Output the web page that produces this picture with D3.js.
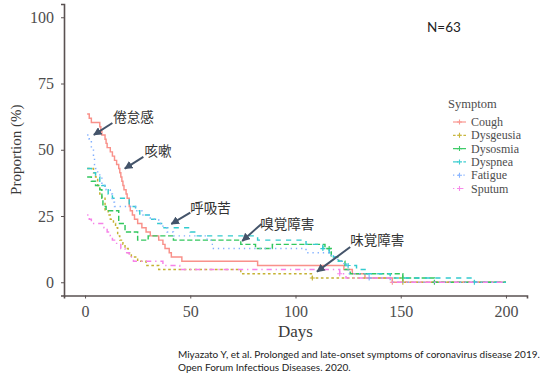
<!DOCTYPE html>
<html>
<head>
<meta charset="utf-8">
<script src="https://cdn.jsdelivr.net/npm/d3@7"></script>
<style>
  body { margin: 0; background: #fff; }
</style>
</head>
<body>
<div id="chart"></div>
<script>
// symptom names, in legend order
var symptoms = ['Cough', 'Dysgeusia', 'Dysosmia', 'Dyspnea', 'Fatigue', 'Sputum'];

// [day, proportion %] step points (N=63)
var cough = [[1, 63.5], [2, 61.9], [3, 60.3], [7, 58.7], [7.5, 57.1], [8, 55.6], [9.5, 54.0], [10, 52.4],
    [10.5, 50.8], [12, 49.2], [13, 47.6], [14, 46.0], [15, 44.4], [16, 42.9], [16.5, 41.3], [17, 39.7],
    [17.5, 38.1], [18, 36.5], [18.5, 34.9], [19.5, 33.3], [20, 31.7], [21, 28.6], [21.5, 27.0], [22.5, 25.4],
    [23.5, 23.8], [25, 22.2], [27, 20.6], [29, 19.0], [31, 17.5], [35, 15.9], [37, 14.3], [38, 12.7],
    [40, 11.1], [41, 9.5], [46, 7.9], [82, 6.3], [123, 4.8], [127, 3.2], [133, 1.6], [146, 0], [200, 0]];
var dysgeusia = [[1, 42.9], [4, 41.3], [5, 39.7], [6, 36.5], [7, 33.3], [8, 31.7], [9.5, 27.0], [11, 25.4],
    [12, 23.8], [13.5, 22.2], [14.5, 20.6], [15.5, 17.5], [16.5, 15.9], [18, 14.3], [19, 12.7], [20.5, 11.1],
    [22, 9.5], [25, 7.9], [29, 6.3], [35, 4.8], [74, 3.2], [108, 1.6], [151, 0], [200, 0]];
var dysosmia = [[1, 39.7], [3, 38.1], [5, 36.5], [7, 34.9], [8, 31.7], [8.5, 28.6], [10, 27.0], [16, 22.2],
    [19, 19.0], [25, 15.9], [30, 17.5], [42, 15.9], [74, 14.3], [81, 12.7], [89, 14.3], [114, 12.7],
    [117, 9.5], [120.5, 7.9], [123.5, 4.8], [126, 3.2], [151, 1.6], [166, 0], [200, 0]];
var dyspnea = [[1, 42.9], [3, 41.3], [5, 39.7], [7, 38.1], [8, 36.5], [9.5, 34.9], [11, 33.3], [13, 31.7],
    [21, 28.6], [24, 27.0], [26, 25.4], [31, 23.8], [34, 22.2], [37, 20.6], [50, 19.0], [53, 17.5],
    [82, 15.9], [105, 14.3], [113, 12.7], [116, 11.1], [118, 9.5], [120, 7.9], [124, 6.3], [129, 4.8],
    [134, 3.2], [145, 1.6], [185, 0], [200, 0]];
var fatigue = [[1, 55.6], [2, 54.0], [3, 50.8], [4, 47.6], [4.5, 44.4], [5, 42.9], [6, 41.3], [7, 39.7],
    [8, 36.5], [10, 34.9], [12, 33.3], [13, 30.2], [14, 28.6], [24, 27.0], [27, 25.4], [31, 23.8],
    [35, 22.2], [37, 20.6], [39, 19.0], [42, 17.5], [58, 15.9], [60, 14.3], [61, 12.7], [105, 11.1],
    [117, 9.5], [120, 7.9], [123, 6.3], [125, 3.2], [135, 1.6], [145, 0], [200, 0]];
var sputum = [[1, 25.4], [2, 23.8], [3, 22.2], [9, 20.6], [10.5, 19.0], [12, 17.5], [13, 15.9], [15, 14.3],
    [17, 12.7], [19, 11.1], [21, 9.5], [23, 7.9], [37, 6.3], [45, 4.8], [121, 3.2], [124, 1.6],
    [146, 0], [200, 0]];

// censoring days (+ marks)
var censorDays = [[146], [108, 151], [116, 151, 166], [113, 125, 185], [135], [121]];

var xTicks = [0, 50, 100, 150, 200];
var yTicks = [0, 25, 50, 75, 100];

var noteLabels = ['倦怠感', '咳嗽', '呼吸苦', '嗅覚障害', '味覚障害'];

var series = [cough, dysgeusia, dysosmia, dyspnea, fatigue, sputum];
var colors = ['#F8766D', '#B79F00', '#00BA38', '#00BFC4', '#619CFF', '#F564E3'];
var dashes = [null, '2.6,2.6', '5.2,2.6', '5.2,5.2', '1.3,3.9', '1.3,3.9,5.2,3.9'];

var width = 544, height = 378;
var svg = d3.select('#chart').append('svg')
    .attr('width', width)
    .attr('height', height);

var x = d3.scaleLinear().domain([-10, 210]).range([64, 527]);
var y = d3.scaleLinear().domain([-5, 105]).range([295.5, 4]);

var axisColor = '#5a5252',
    serif = '"Liberation Serif", "Times New Roman", serif',
    textGrey = '#4d4d4d';

// axes
var xAxis = svg.append('g')
    .attr('transform', 'translate(0,' + y(-5) + ')')
    .call(d3.axisBottom(x).tickValues(xTicks).tickSize(3).tickPadding(7));
var yAxis = svg.append('g')
    .attr('transform', 'translate(' + x(-10) + ',0)')
    .call(d3.axisLeft(y).tickValues(yTicks).tickSize(3).tickPadding(7));

[xAxis, yAxis].forEach(function (g) {
    g.select('.domain').attr('stroke', axisColor).attr('stroke-width', 1.6);
    g.selectAll('.tick line').attr('stroke', axisColor).attr('stroke-width', 1);
    g.selectAll('.tick text')
        .attr('fill', textGrey)
        .style('font-family', serif)
        .style('font-size', '16px');
});

svg.append('text')
    .attr('x', x(100))
    .attr('y', 337)
    .attr('text-anchor', 'middle')
    .attr('fill', '#3a3a3a')
    .style('font-family', serif)
    .style('font-size', '17px')
    .text('Days');

svg.append('text')
    .attr('transform', 'translate(21,' + y(50) + ') rotate(-90)')
    .attr('text-anchor', 'middle')
    .attr('fill', '#3a3a3a')
    .style('font-family', serif)
    .style('font-size', '15px')
    .text('Proportion (%)');

// step curves
var line = d3.line()
    .x(function (d) { return x(d[0]); })
    .y(function (d) { return y(d[1]); })
    .curve(d3.curveStepAfter);

function valueAt(data, day) {
    var v = data[0][1];
    data.forEach(function (d) { if (d[0] <= day) { v = d[1]; } });
    return v;
}

function plus(g, cx, cy, color) {
    g.append('path')
        .attr('d', 'M' + (cx - 2.5) + ',' + cy + 'h5M' + cx + ',' + (cy - 2.5) + 'v5')
        .attr('stroke', color)
        .attr('stroke-width', 1.1)
        .attr('fill', 'none');
}

var curves = svg.append('g').attr('opacity', 0.8);
series.forEach(function (data, i) {
    curves.append('path')
        .datum(data)
        .attr('d', line)
        .attr('fill', 'none')
        .attr('stroke', colors[i])
        .attr('stroke-width', 1.45)
        .attr('stroke-dasharray', dashes[i]);
    censorDays[i].forEach(function (d) {
        plus(curves, x(d), y(valueAt(data, d)), colors[i]);
    });
});

// legend
var legend = svg.append('g');
legend.append('text')
    .attr('x', 448)
    .attr('y', 108)
    .attr('fill', textGrey)
    .style('font-family', serif)
    .style('font-size', '12.5px')
    .text('Symptom');

symptoms.forEach(function (name, i) {
    var cy = 122 + i * 13.3;
    var key = legend.append('g').attr('opacity', 0.75);
    key.append('line')
        .attr('x1', 453).attr('x2', 466)
        .attr('y1', cy).attr('y2', cy)
        .attr('stroke', colors[i])
        .attr('stroke-width', 1.2)
        .attr('stroke-dasharray', dashes[i]);
    plus(key, 459.5, cy, colors[i]);
    legend.append('text')
        .attr('x', 471)
        .attr('y', cy + 4)
        .attr('fill', textGrey)
        .style('font-family', serif)
        .style('font-size', '12px')
        .text(name);
});

// annotations: label anchor and arrow tail/head in data units
var notePos = [
    { at: [13.4, 60.5], from: [13, 60.1], to: [4.2, 55.6] },
    { at: [28.2, 47.7], from: [27.7, 47.3], to: [18.9, 42.9] },
    { at: [50, 26.3], from: [50, 26.3], to: [41, 22] },
    { at: [83.3, 20.1], from: [83.8, 22], to: [74.7, 15.6] },
    { at: [126, 13.9], from: [126, 13.3], to: [110.2, 4] }
];
var arrowColor = '#44546a';

svg.append('defs').append('marker')
    .attr('id', 'head')
    .attr('viewBox', '0 0 10 10')
    .attr('refX', 9)
    .attr('refY', 5)
    .attr('markerWidth', 4.2)
    .attr('markerHeight', 4.2)
    .attr('orient', 'auto')
    .append('path')
    .attr('d', 'M0,0L10,5L0,10z')
    .attr('fill', arrowColor);

noteLabels.forEach(function (label, i) {
    var p = notePos[i];
    svg.append('line')
        .attr('x1', x(p.from[0])).attr('y1', y(p.from[1]))
        .attr('x2', x(p.to[0])).attr('y2', y(p.to[1]))
        .attr('stroke', arrowColor)
        .attr('stroke-width', 2)
        .attr('marker-end', 'url(#head)');
    svg.append('text')
        .attr('x', x(p.at[0]))
        .attr('y', y(p.at[1]))
        .attr('fill', '#333')
        .style('font-family', '"Noto Sans CJK JP", sans-serif')
        .style('font-size', '13.5px')
        .text(label);
});

svg.append('text')
    .attr('x', 427)
    .attr('y', 32)
    .attr('fill', '#222')
    .style('font-family', 'Lato, "Open Sans", sans-serif')
    .style('font-size', '13.5px')
    .text('N=63');

// source caption
var caption = ['Miyazato Y, et al. Prolonged and late-onset symptoms of coronavirus disease 2019.',
    'Open Forum Infectious Diseases. 2020.'];
caption.forEach(function (t, i) {
    svg.append('text')
        .attr('x', 178)
        .attr('y', 357.5 + i * 13.5)
        .attr('fill', '#222')
        .style('font-family', 'Lato, "Open Sans", sans-serif')
        .style('font-size', '10px')
        .text(t);
});
</script>
</body>
</html>
